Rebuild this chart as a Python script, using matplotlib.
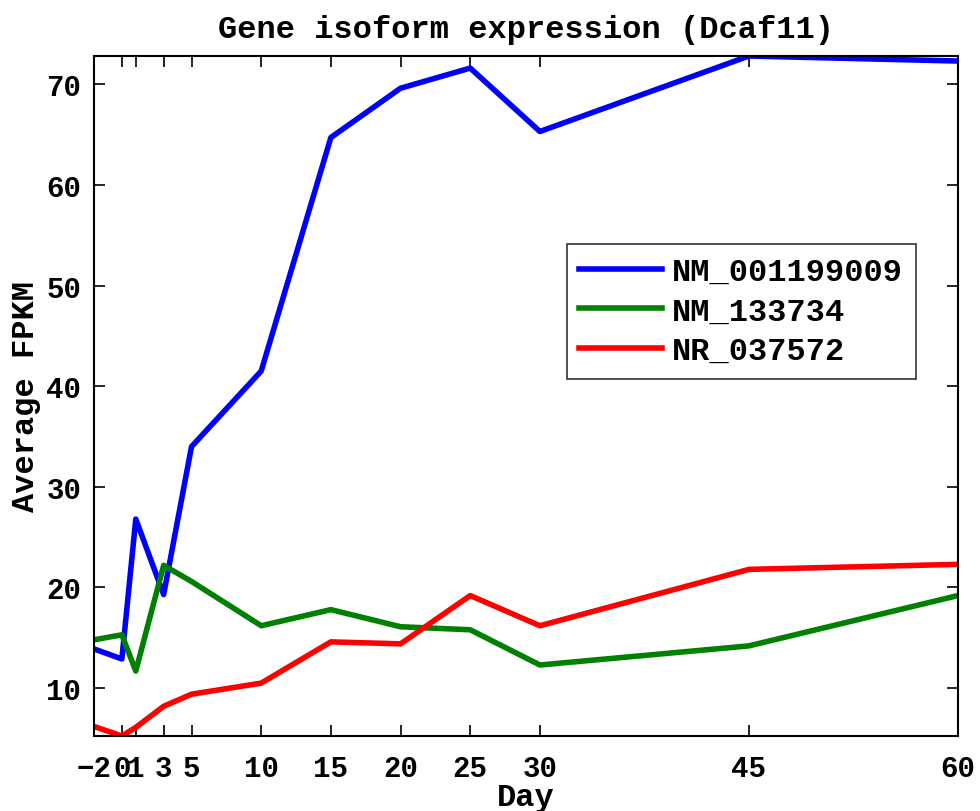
import matplotlib
matplotlib.use("Agg")
import matplotlib.pyplot as plt

# Days sampled
days = [-2, 0, 1, 3, 5, 10, 15, 20, 25, 30, 45, 60]
day_ticks = [-2, 0, 1, 3, 5, 10, 15, 20, 25, 30, 45, 60]

# Average FPKM per isoform
nm_001199009 = [13.9, 12.9, 26.8, 19.3, 34.0, 41.5, 64.7, 69.6, 71.6, 65.3, 72.8, 72.3]
nm_133734 = [14.8, 15.3, 11.7, 22.2, 20.6, 16.2, 17.8, 16.1, 15.8, 12.3, 14.2, 19.2]
nr_037572 = [6.2, 5.25, 6.1, 8.2, 9.4, 10.5, 14.6, 14.4, 19.2, 16.2, 21.8, 22.3]

series_names = ["NM_001199009", "NM_133734", "NR_037572"]
series_colors = ["#0000ff", "#008000", "#ff0000"]

plt.rcParams['font.family'] = ['Liberation Mono', 'DejaVu Sans Mono']
plt.rcParams['font.weight'] = 'bold'

fig = plt.figure(figsize=(9.8, 8.12), dpi=100)
ax = fig.add_axes([0.0959, 0.0924, 0.8816, 0.8374])

for vals, name, col in zip([nm_001199009, nm_133734, nr_037572], series_names, series_colors):
    ax.plot(days, vals, color=col, linewidth=4.0, label=name)

ax.set_xlim(-2, 60)
ax.set_ylim(5.25, 72.8)
ax.set_xticks(day_ticks)
ax.set_xticklabels([str(d).replace('-', '\u2212') for d in day_ticks])
ax.set_yticks([10, 20, 30, 40, 50, 60, 70])

ax.tick_params(direction='in', length=8, width=1.2, top=True, right=True, labelsize=21)
ax.tick_params(axis='y', pad=9)
ax.tick_params(axis='x', pad=13)
for lbl in ax.get_xticklabels() + ax.get_yticklabels():
    lbl.set_fontweight('bold')
for sp in ax.spines.values():
    sp.set_linewidth(1.5)

ax.set_xlabel("Day", fontsize=23, fontweight='bold', labelpad=0)
ax.set_ylabel("Average FPKM", fontsize=23, fontweight='bold', labelpad=4)
ax.set_title("Gene isoform expression (Dcaf11)", fontsize=23, fontweight='bold', pad=14)

leg = ax.legend(loc='upper left', bbox_to_anchor=(0.547, 0.7235), fontsize=23,
                frameon=True, fancybox=False, handlelength=2.6, borderpad=0.4,
                labelspacing=0.3, handletextpad=0.3, borderaxespad=0)
leg.get_frame().set_edgecolor('black')
leg.get_frame().set_linewidth(1.2)
for t in leg.get_texts():
    t.set_fontweight('bold')

fig.savefig("out.png", dpi=100)
